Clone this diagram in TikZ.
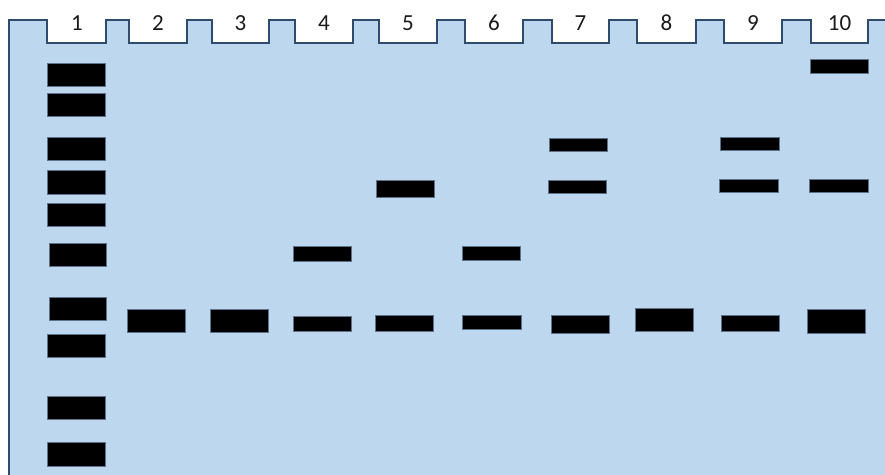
\documentclass[tikz,border=0pt]{standalone}
\usepackage{fontspec}
\setmainfont{Carlito}
\definecolor{gelBlue}{HTML}{BDD7EE}
\definecolor{gelEdge}{HTML}{2F4B6E}
\definecolor{bandEdge}{HTML}{5E7388}
\definecolor{labelGrey}{HTML}{1A1A1A}
\usetikzlibrary{positioning}
\tikzset{
    gel outline/.style={draw=gelEdge, fill=gelBlue, line width=1.7pt, line join=miter},
    band/.style={draw=bandEdge, fill=black, line width=0.7pt},
    lane label/.style={anchor=base, inner sep=0pt, text=labelGrey, font=\fontsize{23}{25}\selectfont},
}
\begin{document}
\begin{tikzpicture}[x=1pt, y=-1pt]
    \useasboundingbox (0,0) rectangle (885,474);
    \clip (0,0) rectangle (885,474);
    % gel with the ten wells cut into its top edge
    \draw[gel outline] (9,490) -- (9,20)
        \foreach \wl/\wr in {47/106, 129/187, 212/269, 295/353, 379/437,
                             465/523, 552/609, 637/696, 724/782, 811/868}
            { -- (\wl,20) -- (\wl,43) -- (\wr,43) -- (\wr,20) }
        -- (900,20) -- (900,490) -- cycle;
    % lane numbers
    \foreach \lx [count=\ln] in {77, 158, 240.5, 324, 408, 494, 580.5, 666.5, 753, 839.5}
        \node[lane label] (lane\ln) at (\lx,30) {\ln};
    % ladder, lane 1
    \foreach \ya/\yb in {63/86, 93/116, 137/160, 170/194, 203/226, 334/357, 396/419, 442/466}
        \draw[band] (47,\ya) rectangle (105,\yb);
    \foreach \ya/\yb in {243/266, 297/320}
        \draw[band] (49,\ya) rectangle (106,\yb);
    % sample lanes 2--10
    \foreach \xa/\xb/\ya/\yb in {
        127/185/309/332,                       % lane 2
        210/268/309/332,                       % lane 3
        293/351/246/261, 293/351/316/331,      % lane 4
        376/434/180/197, 375/433/315/331,      % lane 5
        462/520/246/260, 462/521/315/329,      % lane 6
        549/607/138/151, 548/606/180/193, 551/609/315/333, % lane 7
        635/693/308/331,                       % lane 8
        720/779/137/150, 719/778/179/192, 721/779/315/331, % lane 9
        810/868/59/73, 809/868/179/192, 807/865/309/333}   % lane 10
        \draw[band] (\xa,\ya) rectangle (\xb,\yb);
\end{tikzpicture}
\end{document}
